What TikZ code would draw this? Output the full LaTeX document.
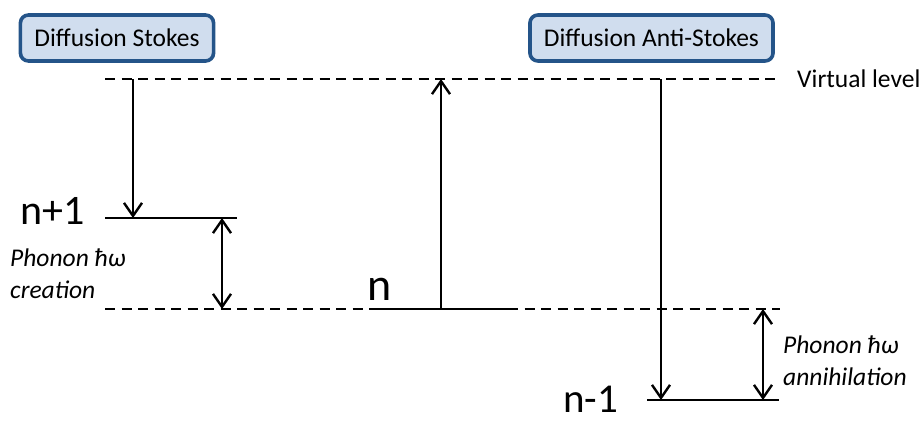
\documentclass[tikz,border=0pt]{standalone}
\usepackage{fontspec}
\setmainfont{Carlito}
\usetikzlibrary{arrows.meta}
\definecolor{boxfill}{HTML}{D0DDEE}
\definecolor{boxdraw}{HTML}{245489}
\begin{document}
\begin{tikzpicture}[x=1pt,y=-1pt,
  titlebox/.style={draw=boxdraw,fill=boxfill,line width=3.6pt,rounded corners=8pt,
    minimum height=46pt,inner xsep=14pt,font=\fontsize{25.5}{30}\selectfont},
  levelline/.style={line width=2.8pt},
  dashline/.style={line width=1.7pt,dash pattern=on 10pt off 6.5pt},
  barb/.tip={Straight Barb[length=13pt,width=18pt,line width=2.4pt]},
  transarrow/.style={line width=2.6pt,-barb},
  phonarrow/.style={line width=2.6pt,barb-barb},
  biglabel/.style={font=\fontsize{42}{46}\selectfont,inner sep=0pt},
  phonlabel/.style={font=\fontsize{25.5}{32}\selectfont\itshape,align=left,inner sep=0pt,anchor=west},
]
\useasboundingbox (0,0) rectangle (922,423);
% title boxes
\node[titlebox] (stokes) at (117,38) {Diffusion Stokes};
\node[titlebox] (anti) at (651.5,38) {Diffusion Anti-Stokes};
% level coordinates
\coordinate (vL) at (105,79);
\coordinate (vR) at (781,79);
\coordinate (n1L) at (105,218);
\coordinate (n1R) at (237,218);
\coordinate (nDL) at (105,309);
\coordinate (nL) at (376,309);
\coordinate (nR) at (508,309);
\coordinate (nDR) at (780,309);
\coordinate (nmL) at (647,400);
\coordinate (nmR) at (779,400);
% arrow end points
\coordinate (sTop) at (133,79);
\coordinate (sBot) at (133,218);
\coordinate (cTop) at (222,218);
\coordinate (cBot) at (222,309);
\coordinate (uBot) at (441,309);
\coordinate (uTop) at (441,79);
\coordinate (aTop) at (661,79);
\coordinate (aBot) at (661,400);
\coordinate (pTop) at (763,309);
\coordinate (pBot) at (763,400);
% levels
\draw[dashline] (vL) -- (vR);
\draw[dashline] (nDL) -- (nL);
\draw[dashline] (nR) -- (nDR);
\draw[levelline] (n1L) -- (n1R);
\draw[levelline] (nL) -- (nR);
\draw[levelline] (nmL) -- (nmR);
% arrows
\draw[transarrow] (sTop) -- (sBot);
\draw[transarrow] (uBot) -- (uTop);
\draw[transarrow] (aTop) -- (aBot);
\draw[phonarrow] (cTop) -- (cBot);
\draw[phonarrow] (pTop) -- (pBot);
% labels
\node[font=\fontsize{25.5}{30}\selectfont,anchor=west,inner sep=0pt] (virt) at (797,79) {Virtual level};
\node[biglabel,anchor=base west] (lnp) at (20,224) {n+1};
\node[biglabel,anchor=base west,font=\fontsize{46}{50}\selectfont] (ln) at (367,300) {n};
\node[biglabel,anchor=base west,font=\fontsize{41}{45}\selectfont] (lnm) at (563,412) {n-1};
\node[phonlabel] (pc) at (10,274) {Phonon ħω\\creation};
\node[phonlabel] (pa) at (783,361) {Phonon ħω\\annihilation};
\end{tikzpicture}
\end{document}
